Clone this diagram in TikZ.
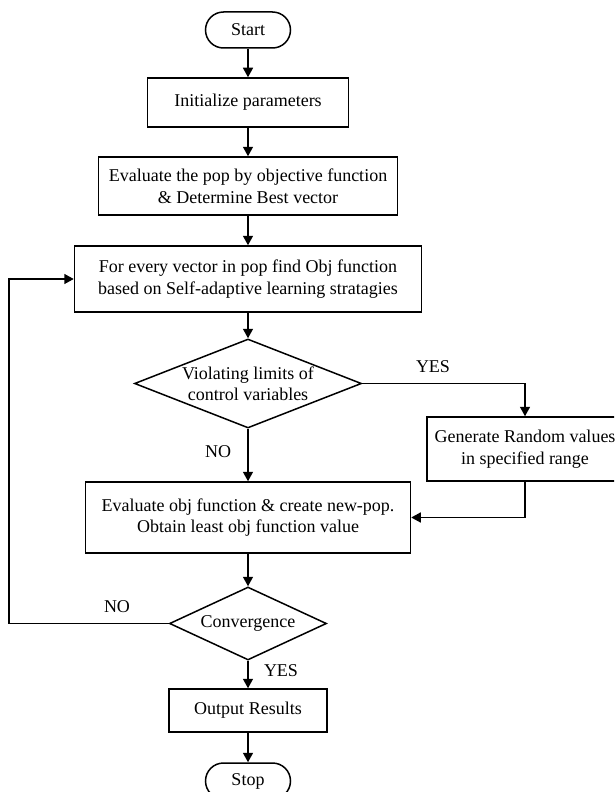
\documentclass[tikz,border=0pt]{standalone}
\usepackage{fontspec}
\setmainfont{Liberation Serif}
\usetikzlibrary{arrows.meta,shapes.geometric}

\begin{document}
\begin{tikzpicture}[x=1pt, y=1pt,
    font=\fontsize{18}{21.5}\selectfont,
    every node/.style={inner sep=0pt},
    flow/.style={line width=1.5pt, -{Triangle[length=9.5pt,width=10pt]}},
    proc/.style={draw, line width=1.5pt, rectangle, align=center},
    term/.style={draw, line width=1.5pt, rectangle, rounded corners=18pt, minimum width=85pt, minimum height=36pt},
    decision/.style={draw, line width=1.5pt, diamond, aspect=2.3}]
    % page
    \useasboundingbox (0,0) rectangle (614,-792);
    \clip (0,0) rectangle (614,-792);

    % draw nodes
    \node[term] (start) at (248,-30) {Start};
    \node[proc, minimum width=201pt, minimum height=49pt] (init) at (248,-102.5) {Initialize parameters};
    \node[proc, minimum width=299pt, minimum height=58pt] (best) at (248,-186) {Evaluate the pop by objective function\\\& Determine Best vector};
    \node[proc, minimum width=347pt, minimum height=66pt] (every) at (248,-279) {For every vector in pop find Obj function\\based on Self-adaptive learning stratagies};
    \node[decision, minimum width=227pt, minimum height=89pt,
          label={[align=center]center:Violating limits of\\control variables}] (limits) at (248,-383.5) {};
    \node[proc, minimum width=196pt, minimum height=64pt] (random) at (525,-449) {Generate Random values\\in specified range};
    \node[proc, minimum width=325pt, minimum height=71pt] (newpop) at (248,-517.5) {Evaluate obj function \& create new-pop.\\Obtain least obj function value};
    \node[decision, minimum width=157pt, minimum height=73pt] (conv) at (248,-623.5) {Convergence};
    \node[proc, minimum width=158pt, minimum height=43pt] (output) at (248,-710.5) {Output Results};
    \node[term] (stop) at (248,-781) {Stop};
    \coordinate (back) at (9,-623.5);

    % draw labels
    \node (yes1) at (433,-367) {YES};
    \node (no1) at (218,-452) {NO};
    \node (no2) at (117,-607) {NO};
    \node (yes2) at (281,-671) {YES};

    % draw arrows
    \draw[flow] (start) -- (init);
    \draw[flow] (init) -- (best);
    \draw[flow] (best) -- (every);
    \draw[flow] (every) -- (limits);
    \draw[flow] (limits.east) -| (random.north);
    \draw[flow] (limits.south) -- (newpop.north);
    \draw[flow] (random.south) |- (newpop.east);
    \draw[flow] (newpop) -- (conv);
    \draw[flow] (conv.west) -- (back) |- (every.west);
    \draw[flow] (conv.south) -- (output.north);
    \draw[flow] (output) -- (stop);
\end{tikzpicture}
\end{document}
